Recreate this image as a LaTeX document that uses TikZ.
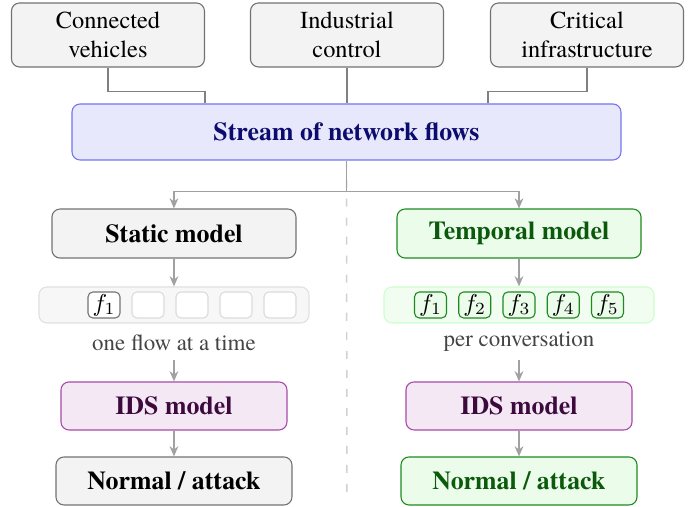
\documentclass[tikz,border=0pt]{standalone}
\usepackage{fontspec}
\setmainfont{texgyretermes}[Extension=.otf, UprightFont=*-regular,
  BoldFont=*-bold, ItalicFont=*-italic, BoldItalicFont=*-bolditalic]
\usetikzlibrary{arrows.meta,positioning}

\definecolor{srcfill}{HTML}{F3F3F3}
\definecolor{srcdraw}{HTML}{727272}
\definecolor{streamfill}{HTML}{E8E8FD}
\definecolor{streamdraw}{HTML}{7474F2}
\definecolor{streamtext}{HTML}{0C0C6E}
\definecolor{tempfill}{HTML}{EBFCEB}
\definecolor{tempdraw}{HTML}{1E8A1E}
\definecolor{temptext}{HTML}{0B5A0B}
\definecolor{idsfill}{HTML}{F5E8F5}
\definecolor{idsdraw}{HTML}{A64CA6}
\definecolor{idstext}{HTML}{3D0A3D}
\definecolor{notetext}{HTML}{444444}

\begin{document}
\begin{tikzpicture}[
  font=\normalsize,
  srcbox/.style={draw=srcdraw, line width=0.45pt, fill=srcfill, rounded corners=3.3pt,
    align=center, minimum width=2.781cm, minimum height=0.922cm, inner sep=2pt},
  streambox/.style={draw=streamdraw, line width=0.45pt, fill=streamfill, rounded corners=3.3pt,
    minimum width=7.911cm, minimum height=0.807cm, text=streamtext,
    font=\fontsize{10.6}{12.7}\selectfont\bfseries},
  modelbox/.style={draw=srcdraw, line width=0.45pt, fill=srcfill, rounded corners=3.3pt,
    minimum width=3.516cm, minimum height=0.706cm,
    font=\fontsize{10.6}{12.7}\selectfont\bfseries},
  tempbox/.style={modelbox, draw=tempdraw, fill=tempfill, text=temptext},
  idsbox/.style={draw=idsdraw, line width=0.45pt, fill=idsfill, rounded corners=3.3pt,
    minimum width=3.257cm, minimum height=0.692cm, text=idstext,
    font=\fontsize{10.6}{12.7}\selectfont\bfseries},
  outbox/.style={modelbox, minimum width=3.401cm, minimum height=0.692cm},
  tempout/.style={outbox, draw=tempdraw, fill=tempfill, text=temptext},
  strip/.style={draw=black!12, line width=0.45pt, fill=black!3, rounded corners=3.3pt,
    minimum width=3.891cm, minimum height=0.519cm},
  tempstrip/.style={strip, draw=green!20, fill=tempfill!70},
  slot/.style={draw=black!14, line width=0.45pt, fill=white, rounded corners=2pt,
    minimum width=0.461cm, minimum height=0.375cm, inner sep=0pt},
  fullslot/.style={slot, draw=black!55},
  tempslot/.style={slot, draw=tempdraw, fill=tempfill},
  note/.style={font=\fontsize{9.4}{11.3}\selectfont, text=notetext},
  feed/.style={black!50, line width=0.8pt},
  arrow/.style={-{Stealth[length=4.2pt, width=3.6pt]}, line width=0.6pt, black!37},
  divider/.style={black!18, line width=0.6pt, dash pattern=on 3.3pt off 4.5pt}
]
\useasboundingbox (0,0) rectangle (9.943,-7.292);

% Sources
\node[srcbox] (veh) at (1.556,-0.504) {Connected\\vehicles};
\node[srcbox] (ind) at (5.000,-0.504) {Industrial\\control};
\node[srcbox] (crit) at (8.459,-0.504) {Critical\\infrastructure};

% Stream
\node[streambox] (stream) at (4.993,-1.902) {Stream of network flows};

% Divider
\draw[divider] (stream.south) -- (5.000,-7.205);

% Static branch
\node[modelbox] (static) at (2.507,-3.365) {Static model};
\node[strip] (sstrip) at (2.507,-4.395) {};
\node[fullslot] (s1) at (1.499,-4.395) {$f_1$};
\foreach \i/\x in {2/2.133, 3/2.767, 4/3.401, 5/4.035}
  \node[slot] (s\i) at (\x,-4.395) {};
\node[note] (snote) at (2.507,-4.943) {one flow at a time};
\node[idsbox] (sids) at (2.507,-5.850) {IDS model};
\node[outbox] (sout) at (2.507,-6.931) {Normal / attack};

% Temporal branch
\node[tempbox] (temp) at (7.479,-3.365) {Temporal model};
\node[tempstrip] (tstrip) at (7.479,-4.395) {};
\foreach \i/\x in {1/6.204, 2/6.841, 3/7.479, 4/8.117, 5/8.754}
  \node[tempslot] (t\i) at (\x,-4.395) {$f_\i$};
\node[note] (tnote) at (7.479,-4.928) {per conversation};
\node[idsbox] (tids) at (7.479,-5.850) {IDS model};
\node[tempout] (tout) at (7.479,-6.931) {Normal / attack};

% Connectors
\draw[feed] (veh.south) -- ++(0,-0.346) -| ([xshift=-2.039cm]stream.north);
\draw[feed] (ind.south) -- (ind.south |- stream.north);
\draw[feed] (crit.south) -- ++(0,-0.346) -| ([xshift=2.039cm]stream.north);
\draw[arrow] (stream.south) -- ++(0,-0.447) -| (static.north);
\draw[arrow] (stream.south) -- ++(0,-0.447) -| (temp.north);
\draw[arrow] (static) -- (sstrip);
\draw[arrow] (snote) -- (sids);
\draw[arrow] (sids) -- (sout);
\draw[arrow] (temp) -- (tstrip);
\draw[arrow] (tnote) -- (tids);
\draw[arrow] (tids) -- (tout);
\end{tikzpicture}
\end{document}
